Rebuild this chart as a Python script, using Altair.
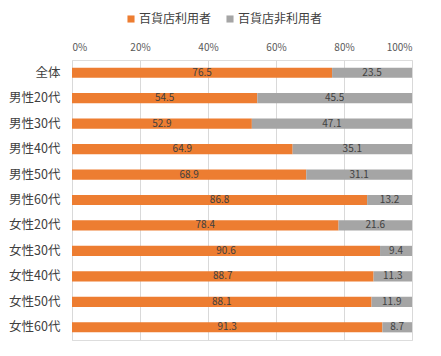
import altair as alt
import pandas as pd

categories = ["全体", "男性20代", "男性30代", "男性40代", "男性50代", "男性60代",
              "女性20代", "女性30代", "女性40代", "女性50代", "女性60代"]
users = [76.5, 54.5, 52.9, 64.9, 68.9, 86.8, 78.4, 90.6, 88.7, 88.1, 91.3]
non_users = [23.5, 45.5, 47.1, 35.1, 31.1, 13.2, 21.6, 9.4, 11.3, 11.9, 8.7]
series = ["百貨店利用者", "百貨店非利用者"]
colors = ["#ED7D31", "#A5A5A5"]

rows = []
for c, u, n in zip(categories, users, non_users):
    rows.append({"cat": c, "series": series[0], "order": 0, "value": u})
    rows.append({"cat": c, "series": series[1], "order": 1, "value": n})
df = pd.DataFrame(rows)

FONT = "Noto Sans CJK JP"

base = alt.Chart(df).transform_stack(
    stack="value", groupby=["cat"], as_=["x0", "x1"],
    sort=[alt.SortField("order", order="ascending")]
).transform_calculate(mid="(datum.x0 + datum.x1) / 2")

y_enc = alt.Y("cat:N", sort=categories, title=None,
              scale=alt.Scale(paddingInner=0.6, paddingOuter=0.3),
              axis=alt.Axis(ticks=False, domain=False, labelFontSize=12.5,
                            labelColor="#404040", labelPadding=12, labelFont=FONT))

bars = base.mark_bar().encode(
    x=alt.X("x0:Q", scale=alt.Scale(domain=[0, 100]), title=None,
            axis=alt.Axis(orient="top", values=[0, 20, 40, 60, 80, 100],
                          labelExpr="datum.value + '%'", ticks=False, domain=False,
                          gridColor="#D9D9D9", labelColor="#595959", labelFontSize=10,
                          labelPadding=8, labelFont=FONT)),
    x2="x1:Q",
    y=y_enc,
    color=alt.Color("series:N", sort=series,
                    scale=alt.Scale(domain=series, range=colors),
                    legend=alt.Legend(title=None, orient="none", direction="horizontal",
                                      legendX=53, legendY=-47, symbolType="square",
                                      symbolSize=50, symbolStrokeWidth=0,
                                      labelFontSize=12, labelColor="#404040",
                                      labelFont=FONT, columnPadding=12,
                                      symbolOffset=0, labelOffset=2)),
)

labels = base.mark_text(fontSize=10, color="#404040", font=FONT).encode(
    x=alt.X("mid:Q", scale=alt.Scale(domain=[0, 100])),
    y=alt.Y("cat:N", sort=categories),
    text=alt.Text("value:Q", format=".1f"),
)

chart = (bars + labels).properties(
    width=340, height=280,
    autosize=alt.AutoSizeParams(type="none"),
    padding={"left": 64, "top": 52, "right": 20, "bottom": 10},
).configure_view(stroke=None).configure(background="white")

chart.save("out.html", embed_options={"renderer": "svg", "actions": False})
